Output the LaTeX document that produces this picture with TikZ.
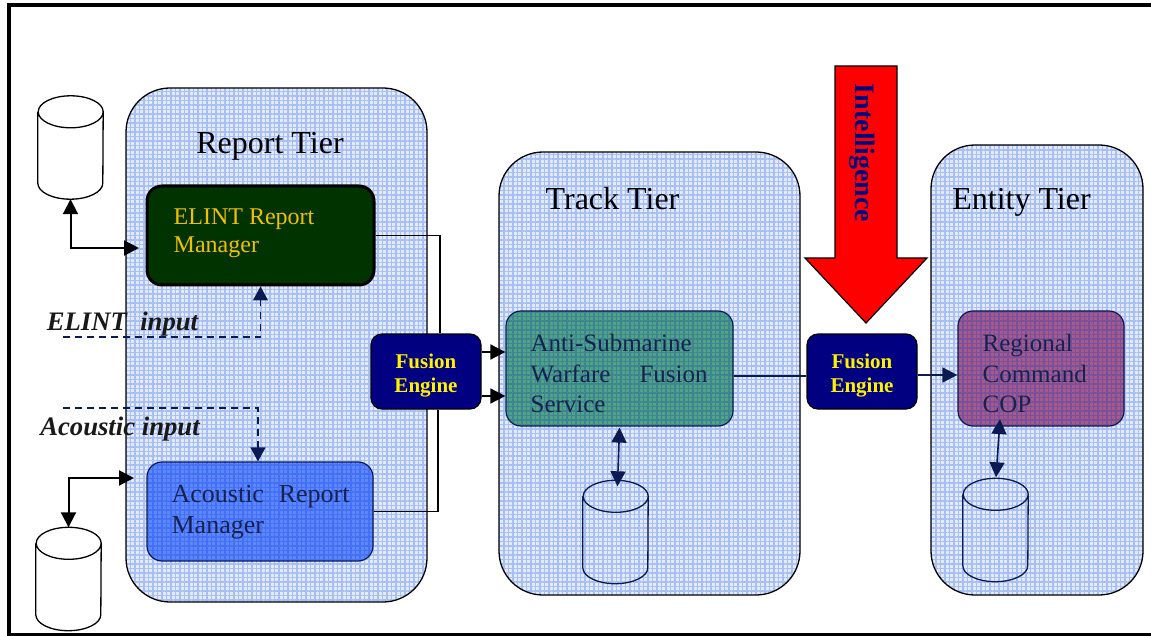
\documentclass[tikz,border=0pt]{standalone}
\usepackage{fontspec}
\setmainfont{Liberation Serif}
\usetikzlibrary{arrows.meta,patterns.meta,calc}
\definecolor{tierfill}{HTML}{E2EAFC}
\definecolor{weave}{HTML}{A8BFF6}
\definecolor{navyline}{HTML}{0B1A50}
\definecolor{navybox}{HTML}{000080}
\definecolor{gold}{HTML}{F0C000}
\definecolor{elintgreen}{HTML}{003300}
\definecolor{acblue}{HTML}{5C87FF}
\definecolor{aclines}{HTML}{4470F6}
\definecolor{aswgreen}{HTML}{4FA488}
\definecolor{aswlines}{HTML}{3F8590}
\definecolor{regpurple}{HTML}{A65A8C}
\definecolor{reglines}{HTML}{7A509A}
\definecolor{txtdark}{HTML}{16234F}
\tikzset{
  x=1pt,y=-1pt,
  woven/.style={pattern={Hatch[angle=0,distance=4.5pt,line width=1.2pt]},pattern color=#1},
  tier/.style={draw=black,line width=1.3pt,rounded corners=44pt,inner sep=0pt,
    preaction={fill=tierfill},woven=weave},
  box/.style={draw=#1,line width=1.2pt,rounded corners=15pt,inner sep=0pt},
  innerweave/.style 2 args={preaction={fill=#1},woven=#2},
  fusion/.style={draw=black,fill=navybox,line width=1.2pt,rounded corners=11pt,inner sep=0pt,
    minimum width=110pt,minimum height=75pt,text=yellow,align=center,
    font=\fontsize{21}{24}\selectfont\bfseries},
  store/.style={minimum width=65pt,minimum height=103pt,inner sep=0pt},
  storeline/.style={draw=black,line width=1.3pt},
  storewhite/.style={storeline,fill=white},
  storeclear/.style={storeline,draw=navyline},
  tiertitle/.style={font=\fontsize{32}{36}\selectfont,text=black,inner sep=0pt},
  boxtext/.style={anchor=west,inner sep=0pt,align=left,text=txtdark,font=\fontsize{25}{30.5}\selectfont},
  inlabel/.style={inner sep=0pt,font=\fontsize{26.7}{30}\selectfont\bfseries\itshape,text=black!90},
  solidlink/.style={draw=black,line width=1.3pt},
  bilink/.style={draw=black,line width=2pt,{Triangle[length=15pt,width=15pt]}-{Triangle[length=15pt,width=15pt]}},
  navybi/.style={draw=navyline,line width=1.6pt,{Triangle[length=15pt,width=15pt]}-{Triangle[length=15pt,width=15pt]}},
  dashlink/.style={draw=navyline,line width=1.2pt,dash pattern=on 7pt off 5pt,-{Triangle[length=14pt,width=15pt]}},
  feed/.style={draw=black,line width=1.6pt,-{Triangle[length=15pt,width=15pt]}}
}
\newcommand{\storeshape}[4]{%
  \node[store] (#1) at (#2,#3) {};
  \draw[#4] ($(#1.north west)+(0,16)$) -- ($(#1.south west)+(0,-16)$)
    arc[start angle=180,end angle=360,x radius=32.5pt,y radius=16pt]
    -- ($(#1.north east)+(0,16)$)
    arc[start angle=0,end angle=180,x radius=32.5pt,y radius=16pt]
    arc[start angle=180,end angle=360,x radius=32.5pt,y radius=16pt];
}
\begin{document}
\begin{tikzpicture}
\useasboundingbox (0,0) rectangle (1151,636);
% frame
\draw[line width=3.2pt] (1151,5) -- (9,5) -- (9,634.5) -- (1151,634.5);
% tiers
\node[tier,minimum width=301pt,minimum height=514pt] (reportTier) at (276.5,345) {};
\node[tier,minimum width=301pt,minimum height=443pt] (trackTier) at (649.5,373.5) {};
\node[tier,minimum width=212pt,minimum height=450pt] (entityTier) at (1037,370) {};
\node[tiertitle] (reportTitle) at (270,146) {Report Tier};
\node[tiertitle] (trackTitle) at (612.5,199) {Track Tier};
\node[tiertitle] (entityTitle) at (1021.5,202) {Entity Tier};
% inner boxes
\node[box=black,line width=3pt,fill=elintgreen,minimum width=227pt,minimum height=99pt] (elint) at (260.5,235.5) {};
\node[box=navyline,innerweave={acblue}{aclines},minimum width=226pt,minimum height=99pt] (acoustic) at (260,511.5) {};
\node[box=navyline,innerweave={aswgreen}{aswlines},minimum width=227pt,minimum height=115pt] (asw) at (619.5,368.5) {};
\node[box=navyline,innerweave={regpurple}{reglines},minimum width=166pt,minimum height=115pt] (regional) at (1041,368.5) {};
\node[boxtext,text=gold,font=\fontsize{24}{28}\selectfont] (elintText) at ([xshift=28pt,yshift=2.5pt]elint.west) {ELINT Report\\Manager};
\node[boxtext,font=\fontsize{26}{31}\selectfont] (acousticText) at ([xshift=25pt,yshift=-1pt]acoustic.west) {\hbox to 178pt{Acoustic\hfill Report}\\Manager};
\node[boxtext] (aswText) at ([xshift=25pt,yshift=-5pt]asw.west) {Anti-Submarine\\\hbox to 177pt{Warfare\hfill Fusion}\\Service};
\node[boxtext] (regionalText) at ([xshift=25pt,yshift=-5pt]regional.west) {Regional\\Command\\COP};
% fusion engines
\node[fusion] (fusionA) at (426,371.5) {\rule{0pt}{22pt}Fusion\\Engine};
\node[fusion] (fusionB) at (862,371.5) {\rule{0pt}{22pt}Fusion\\Engine};
% stores
\storeshape{dbA}{70.5}{147.5}{storewhite}
\storeshape{dbB}{68.5}{579}{storewhite}
\storeshape{dbC}{615.5}{532}{storeclear}
\storeshape{dbD}{995.5}{530}{storeclear}
% free ends
\coordinate (elintIn) at (139,248);
\coordinate (acIn) at (134,478);
\coordinate (elintDash) at (63,337);
\coordinate (acDash) at (63,408);
% intelligence
\draw[line width=1.2pt,fill=red] (835,66) -- (897,66) -- (897,258) -- (927,258) -- (866,323) -- (805,258) -- (835,258) -- cycle;
\node[rotate=-90,inner sep=0pt,text=navybox,font=\fontsize{28}{30}\selectfont\bfseries] (intelText) at (862,153) {Intelligence};
% connectors
\draw[solidlink] (elint.east) -| ([xshift=14pt]fusionA.north);
\draw[solidlink] (acoustic.east) -| ([xshift=12pt]fusionA.south);
\draw[feed] ([yshift=19.5pt]fusionA.east) -- ([yshift=16.5pt]asw.west);
\draw[feed] ([yshift=-24.5pt]fusionA.east) -- ([yshift=-27.5pt]asw.west);
\draw[solidlink,draw=navyline] ([yshift=-7.5pt]asw.east) -- ([yshift=-4.5pt]fusionB.west);
\draw[feed,draw=navyline] ([yshift=-3.5pt]fusionB.east) -- ([yshift=-6.5pt]regional.west);
\draw[bilink] (dbA.south) |- (elintIn);
\draw[bilink] (dbB.north) |- (acIn);
\draw[navybi] ([yshift=-1pt]asw.south) -- ([xshift=2pt,yshift=-6pt]dbC.north);
\draw[navybi] ([yshift=7.5pt,xshift=-41pt]regional.south) -- ([xshift=0.5pt,yshift=1pt]dbD.north);
\draw[dashlink] (elintDash) -| (elint.south);
\draw[dashlink] (acDash) -| ([xshift=-2pt]acoustic.north);
% labels
\node[inlabel] (elintLabel) at (122.5,324) {ELINT\ \ input};
\node[inlabel] (acLabel) at (120,429) {Acoustic input};
\end{tikzpicture}
\end{document}
